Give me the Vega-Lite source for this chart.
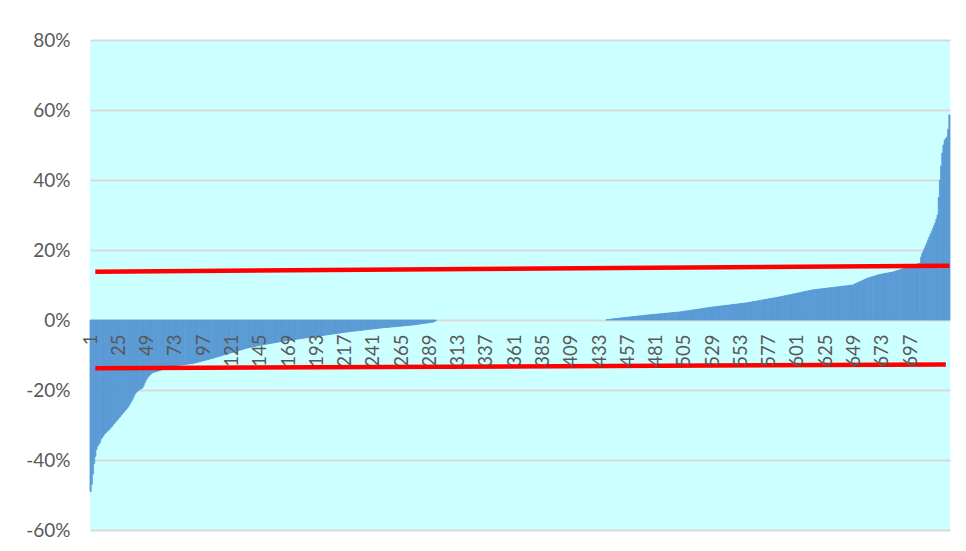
{
"$schema":"https://vega.github.io/schema/vega-lite/v6.json",
"width":860,"height":490,
"autosize":"none",
"padding":{"left":90,"top":40,"right":16,"bottom":21},
"background":"white",
"config":{"view":{"fill":"#ccffff","stroke":null},"font":"Lato"},
"datasets":{
"bars":[
{"i":1,"v":-0.49},{"i":2,"v":-0.47},{"i":3,"v":-0.44},{"i":4,"v":-0.41},{"i":5,"v":-0.39},{"i":6,"v":-0.37},{"i":7,"v":-0.36},{"i":8,"v":-0.355},{"i":9,"v":-0.35},{"i":10,"v":-0.34},
{"i":11,"v":-0.335},{"i":12,"v":-0.33},{"i":13,"v":-0.325},{"i":14,"v":-0.322},{"i":15,"v":-0.318},{"i":16,"v":-0.315},{"i":17,"v":-0.312},{"i":18,"v":-0.308},{"i":19,"v":-0.305},{"i":20,"v":-0.3},
{"i":21,"v":-0.296},{"i":22,"v":-0.292},{"i":23,"v":-0.288},{"i":24,"v":-0.284},{"i":25,"v":-0.28},{"i":26,"v":-0.277},{"i":27,"v":-0.272},{"i":28,"v":-0.268},{"i":29,"v":-0.264},{"i":30,"v":-0.26},
{"i":31,"v":-0.256},{"i":32,"v":-0.252},{"i":33,"v":-0.248},{"i":34,"v":-0.242},{"i":35,"v":-0.236},{"i":36,"v":-0.23},{"i":37,"v":-0.224},{"i":38,"v":-0.217},{"i":39,"v":-0.21},{"i":40,"v":-0.206},
{"i":41,"v":-0.203},{"i":42,"v":-0.2},{"i":43,"v":-0.198},{"i":44,"v":-0.196},{"i":45,"v":-0.194},{"i":46,"v":-0.188},{"i":47,"v":-0.18},{"i":48,"v":-0.172},{"i":49,"v":-0.167},{"i":50,"v":-0.162},
{"i":51,"v":-0.158},{"i":52,"v":-0.155},{"i":53,"v":-0.152},{"i":54,"v":-0.15},{"i":55,"v":-0.149},{"i":56,"v":-0.148},{"i":57,"v":-0.147},{"i":58,"v":-0.146},{"i":59,"v":-0.145},{"i":60,"v":-0.144},
{"i":61,"v":-0.142},{"i":62,"v":-0.14},{"i":63,"v":-0.138},{"i":64,"v":-0.137},{"i":65,"v":-0.135},{"i":66,"v":-0.133},{"i":67,"v":-0.133},{"i":68,"v":-0.132},{"i":69,"v":-0.132},{"i":70,"v":-0.131},
{"i":71,"v":-0.131},{"i":72,"v":-0.131},{"i":73,"v":-0.13},{"i":74,"v":-0.13},{"i":75,"v":-0.129},{"i":76,"v":-0.129},{"i":77,"v":-0.129},{"i":78,"v":-0.1285},{"i":79,"v":-0.128},{"i":80,"v":-0.1276},
{"i":81,"v":-0.1271},{"i":82,"v":-0.1267},{"i":83,"v":-0.1262},{"i":84,"v":-0.1258},{"i":85,"v":-0.1253},{"i":86,"v":-0.1249},{"i":87,"v":-0.1244},{"i":88,"v":-0.124},{"i":89,"v":-0.1231},{"i":90,"v":-0.1222},
{"i":91,"v":-0.1213},{"i":92,"v":-0.1205},{"i":93,"v":-0.1196},{"i":94,"v":-0.1187},{"i":95,"v":-0.1178},{"i":96,"v":-0.1169},{"i":97,"v":-0.1161},{"i":98,"v":-0.1152},{"i":99,"v":-0.1143},{"i":100,"v":-0.1134},
{"i":101,"v":-0.1125},{"i":102,"v":-0.1116},{"i":103,"v":-0.1108},{"i":104,"v":-0.1099},{"i":105,"v":-0.109},{"i":106,"v":-0.108},{"i":107,"v":-0.107},{"i":108,"v":-0.106},{"i":109,"v":-0.105},{"i":110,"v":-0.104},
{"i":111,"v":-0.103},{"i":112,"v":-0.102},{"i":113,"v":-0.101},{"i":114,"v":-0.1},{"i":115,"v":-0.099},{"i":116,"v":-0.098},{"i":117,"v":-0.097},{"i":118,"v":-0.096},{"i":119,"v":-0.095},{"i":120,"v":-0.094},
{"i":121,"v":-0.093},{"i":122,"v":-0.092},{"i":123,"v":-0.091},{"i":124,"v":-0.09},{"i":125,"v":-0.089},{"i":126,"v":-0.088},{"i":127,"v":-0.087},{"i":128,"v":-0.086},{"i":129,"v":-0.085},{"i":130,"v":-0.084},
{"i":131,"v":-0.083},{"i":132,"v":-0.082},{"i":133,"v":-0.081},{"i":134,"v":-0.08},{"i":135,"v":-0.0793},{"i":136,"v":-0.0786},{"i":137,"v":-0.0779},{"i":138,"v":-0.0772},{"i":139,"v":-0.0765},{"i":140,"v":-0.0758},
{"i":141,"v":-0.0752},{"i":142,"v":-0.0745},{"i":143,"v":-0.0738},{"i":144,"v":-0.0731},{"i":145,"v":-0.0724},{"i":146,"v":-0.0717},{"i":147,"v":-0.071},{"i":148,"v":-0.0704},{"i":149,"v":-0.0698},{"i":150,"v":-0.0692},
{"i":151,"v":-0.0686},{"i":152,"v":-0.068},{"i":153,"v":-0.0674},{"i":154,"v":-0.0668},{"i":155,"v":-0.0662},{"i":156,"v":-0.0656},{"i":157,"v":-0.065},{"i":158,"v":-0.0644},{"i":159,"v":-0.0638},{"i":160,"v":-0.0632},
{"i":161,"v":-0.0626},{"i":162,"v":-0.062},{"i":163,"v":-0.0615},{"i":164,"v":-0.061},{"i":165,"v":-0.0605},{"i":166,"v":-0.06},{"i":167,"v":-0.0595},{"i":168,"v":-0.059},{"i":169,"v":-0.0585},{"i":170,"v":-0.058},
{"i":171,"v":-0.0575},{"i":172,"v":-0.057},{"i":173,"v":-0.0565},{"i":174,"v":-0.056},{"i":175,"v":-0.0555},{"i":176,"v":-0.055},{"i":177,"v":-0.0545},{"i":178,"v":-0.054},{"i":179,"v":-0.0535},{"i":180,"v":-0.053},
{"i":181,"v":-0.0525},{"i":182,"v":-0.052},{"i":183,"v":-0.0515},{"i":184,"v":-0.051},{"i":185,"v":-0.0505},{"i":186,"v":-0.05},{"i":187,"v":-0.0495},{"i":188,"v":-0.049},{"i":189,"v":-0.0485},{"i":190,"v":-0.048},
{"i":191,"v":-0.0475},{"i":192,"v":-0.047},{"i":193,"v":-0.0466},{"i":194,"v":-0.0461},{"i":195,"v":-0.0456},{"i":196,"v":-0.0451},{"i":197,"v":-0.0446},{"i":198,"v":-0.0442},{"i":199,"v":-0.0437},{"i":200,"v":-0.0432},
{"i":201,"v":-0.0427},{"i":202,"v":-0.0422},{"i":203,"v":-0.0418},{"i":204,"v":-0.0413},{"i":205,"v":-0.0408},{"i":206,"v":-0.0403},{"i":207,"v":-0.0398},{"i":208,"v":-0.0394},{"i":209,"v":-0.0389},{"i":210,"v":-0.0384},
{"i":211,"v":-0.0379},{"i":212,"v":-0.0374},{"i":213,"v":-0.037},{"i":214,"v":-0.0365},{"i":215,"v":-0.036},{"i":216,"v":-0.0355},{"i":217,"v":-0.035},{"i":218,"v":-0.0345},{"i":219,"v":-0.034},{"i":220,"v":-0.0336},
{"i":221,"v":-0.0332},{"i":222,"v":-0.0328},{"i":223,"v":-0.0324},{"i":224,"v":-0.032},{"i":225,"v":-0.0316},{"i":226,"v":-0.0312},{"i":227,"v":-0.0309},{"i":228,"v":-0.0305},{"i":229,"v":-0.0301},{"i":230,"v":-0.0297},
{"i":231,"v":-0.0293},{"i":232,"v":-0.0289},{"i":233,"v":-0.0285},{"i":234,"v":-0.0281},{"i":235,"v":-0.0277},{"i":236,"v":-0.0273},{"i":237,"v":-0.0269},{"i":238,"v":-0.0265},{"i":239,"v":-0.0261},{"i":240,"v":-0.0257},
{"i":241,"v":-0.0254},{"i":242,"v":-0.025},{"i":243,"v":-0.0246},{"i":244,"v":-0.0242},{"i":245,"v":-0.0238},{"i":246,"v":-0.0234},{"i":247,"v":-0.023},{"i":248,"v":-0.0227},{"i":249,"v":-0.0224},{"i":250,"v":-0.022},
{"i":251,"v":-0.0217},{"i":252,"v":-0.0214},{"i":253,"v":-0.0211},{"i":254,"v":-0.0208},{"i":255,"v":-0.0204},{"i":256,"v":-0.0201},{"i":257,"v":-0.0198},{"i":258,"v":-0.0195},{"i":259,"v":-0.0192},{"i":260,"v":-0.0189},
{"i":261,"v":-0.0185},{"i":262,"v":-0.0182},{"i":263,"v":-0.0179},{"i":264,"v":-0.0176},{"i":265,"v":-0.0173},{"i":266,"v":-0.0169},{"i":267,"v":-0.0166},{"i":268,"v":-0.0163},{"i":269,"v":-0.016},{"i":270,"v":-0.0157},
{"i":271,"v":-0.0154},{"i":272,"v":-0.015},{"i":273,"v":-0.0147},{"i":274,"v":-0.0144},{"i":275,"v":-0.014},{"i":276,"v":-0.0135},{"i":277,"v":-0.0131},{"i":278,"v":-0.0126},{"i":279,"v":-0.0121},{"i":280,"v":-0.0116},
{"i":281,"v":-0.0112},{"i":282,"v":-0.0107},{"i":283,"v":-0.0102},{"i":284,"v":-0.0098},{"i":285,"v":-0.0093},{"i":286,"v":-0.0088},{"i":287,"v":-0.0084},{"i":288,"v":-0.0079},{"i":289,"v":-0.0074},{"i":290,"v":-0.0069},
{"i":291,"v":-0.0065},{"i":292,"v":-0.006},{"i":293,"v":-0.004},{"i":294,"v":-0.002},{"i":295,"v":0},{"i":296,"v":0},{"i":297,"v":0},{"i":298,"v":0},{"i":299,"v":0},{"i":300,"v":0},
{"i":301,"v":0},{"i":302,"v":0},{"i":303,"v":0},{"i":304,"v":0},{"i":305,"v":0},{"i":306,"v":0},{"i":307,"v":0},{"i":308,"v":0},{"i":309,"v":0},{"i":310,"v":0},
{"i":311,"v":0},{"i":312,"v":0},{"i":313,"v":0},{"i":314,"v":0},{"i":315,"v":0},{"i":316,"v":0},{"i":317,"v":0},{"i":318,"v":0},{"i":319,"v":0},{"i":320,"v":0},
{"i":321,"v":0},{"i":322,"v":0},{"i":323,"v":0},{"i":324,"v":0},{"i":325,"v":0},{"i":326,"v":0},{"i":327,"v":0},{"i":328,"v":0},{"i":329,"v":0},{"i":330,"v":0},
{"i":331,"v":0},{"i":332,"v":0},{"i":333,"v":0},{"i":334,"v":0},{"i":335,"v":0},{"i":336,"v":0},{"i":337,"v":0},{"i":338,"v":0},{"i":339,"v":0},{"i":340,"v":0},
{"i":341,"v":0},{"i":342,"v":0},{"i":343,"v":0},{"i":344,"v":0},{"i":345,"v":0},{"i":346,"v":0},{"i":347,"v":0},{"i":348,"v":0},{"i":349,"v":0},{"i":350,"v":0},
{"i":351,"v":0},{"i":352,"v":0},{"i":353,"v":0},{"i":354,"v":0},{"i":355,"v":0},{"i":356,"v":0},{"i":357,"v":0},{"i":358,"v":0},{"i":359,"v":0},{"i":360,"v":0},
{"i":361,"v":0},{"i":362,"v":0},{"i":363,"v":0},{"i":364,"v":0},{"i":365,"v":0},{"i":366,"v":0},{"i":367,"v":0},{"i":368,"v":0},{"i":369,"v":0},{"i":370,"v":0},
{"i":371,"v":0},{"i":372,"v":0},{"i":373,"v":0},{"i":374,"v":0},{"i":375,"v":0},{"i":376,"v":0},{"i":377,"v":0},{"i":378,"v":0},{"i":379,"v":0},{"i":380,"v":0},
{"i":381,"v":0},{"i":382,"v":0},{"i":383,"v":0},{"i":384,"v":0},{"i":385,"v":0},{"i":386,"v":0},{"i":387,"v":0},{"i":388,"v":0},{"i":389,"v":0},{"i":390,"v":0},
{"i":391,"v":0},{"i":392,"v":0},{"i":393,"v":0},{"i":394,"v":0},{"i":395,"v":0},{"i":396,"v":0},{"i":397,"v":0},{"i":398,"v":0},{"i":399,"v":0},{"i":400,"v":0},
{"i":401,"v":0},{"i":402,"v":0},{"i":403,"v":0},{"i":404,"v":0},{"i":405,"v":0},{"i":406,"v":0},{"i":407,"v":0},{"i":408,"v":0},{"i":409,"v":0},{"i":410,"v":0},
{"i":411,"v":0},{"i":412,"v":0},{"i":413,"v":0},{"i":414,"v":0},{"i":415,"v":0},{"i":416,"v":0},{"i":417,"v":0},{"i":418,"v":0},{"i":419,"v":0},{"i":420,"v":0},
{"i":421,"v":0},{"i":422,"v":0},{"i":423,"v":0},{"i":424,"v":0},{"i":425,"v":0},{"i":426,"v":0},{"i":427,"v":0},{"i":428,"v":0},{"i":429,"v":0},{"i":430,"v":0},
{"i":431,"v":0},{"i":432,"v":0},{"i":433,"v":0},{"i":434,"v":0},{"i":435,"v":0},{"i":436,"v":0},{"i":437,"v":0},{"i":438,"v":0},{"i":439,"v":0.0005},{"i":440,"v":0.001},
{"i":441,"v":0.0015},{"i":442,"v":0.002},{"i":443,"v":0.0025},{"i":444,"v":0.003},{"i":445,"v":0.0034},{"i":446,"v":0.0038},{"i":447,"v":0.0042},{"i":448,"v":0.0045},{"i":449,"v":0.0049},{"i":450,"v":0.0053},
{"i":451,"v":0.0057},{"i":452,"v":0.0061},{"i":453,"v":0.0064},{"i":454,"v":0.0068},{"i":455,"v":0.0072},{"i":456,"v":0.0076},{"i":457,"v":0.008},{"i":458,"v":0.0083},{"i":459,"v":0.0087},{"i":460,"v":0.0091},
{"i":461,"v":0.0095},{"i":462,"v":0.0099},{"i":463,"v":0.0102},{"i":464,"v":0.0106},{"i":465,"v":0.011},{"i":466,"v":0.0114},{"i":467,"v":0.0118},{"i":468,"v":0.0121},{"i":469,"v":0.0125},{"i":470,"v":0.0129},
{"i":471,"v":0.0133},{"i":472,"v":0.0137},{"i":473,"v":0.014},{"i":474,"v":0.0143},{"i":475,"v":0.0146},{"i":476,"v":0.015},{"i":477,"v":0.0153},{"i":478,"v":0.0156},{"i":479,"v":0.0159},{"i":480,"v":0.0162},
{"i":481,"v":0.0165},{"i":482,"v":0.0169},{"i":483,"v":0.0172},{"i":484,"v":0.0175},{"i":485,"v":0.0178},{"i":486,"v":0.0181},{"i":487,"v":0.0185},{"i":488,"v":0.0188},{"i":489,"v":0.0191},{"i":490,"v":0.0194},
{"i":491,"v":0.0197},{"i":492,"v":0.02},{"i":493,"v":0.0204},{"i":494,"v":0.0207},{"i":495,"v":0.021},{"i":496,"v":0.0213},{"i":497,"v":0.0216},{"i":498,"v":0.022},{"i":499,"v":0.0223},{"i":500,"v":0.0226},
{"i":501,"v":0.023},{"i":502,"v":0.0235},{"i":503,"v":0.024},{"i":504,"v":0.0245},{"i":505,"v":0.025},{"i":506,"v":0.0255},{"i":507,"v":0.026},{"i":508,"v":0.0265},{"i":509,"v":0.027},{"i":510,"v":0.0275},
{"i":511,"v":0.028},{"i":512,"v":0.0285},{"i":513,"v":0.029},{"i":514,"v":0.0295},{"i":515,"v":0.03},{"i":516,"v":0.0305},{"i":517,"v":0.031},{"i":518,"v":0.0315},{"i":519,"v":0.032},{"i":520,"v":0.0325},
{"i":521,"v":0.033},{"i":522,"v":0.0335},{"i":523,"v":0.034},{"i":524,"v":0.0345},{"i":525,"v":0.035},{"i":526,"v":0.0355},{"i":527,"v":0.036},{"i":528,"v":0.0365},{"i":529,"v":0.037},{"i":530,"v":0.0374},
{"i":531,"v":0.0378},{"i":532,"v":0.0382},{"i":533,"v":0.0387},{"i":534,"v":0.0391},{"i":535,"v":0.0395},{"i":536,"v":0.0399},{"i":537,"v":0.0403},{"i":538,"v":0.0407},{"i":539,"v":0.0411},{"i":540,"v":0.0416},
{"i":541,"v":0.042},{"i":542,"v":0.0424},{"i":543,"v":0.0428},{"i":544,"v":0.0432},{"i":545,"v":0.0436},{"i":546,"v":0.044},{"i":547,"v":0.0445},{"i":548,"v":0.0449},{"i":549,"v":0.0453},{"i":550,"v":0.0457},
{"i":551,"v":0.0461},{"i":552,"v":0.0465},{"i":553,"v":0.0469},{"i":554,"v":0.0474},{"i":555,"v":0.0478},{"i":556,"v":0.0482},{"i":557,"v":0.0486},{"i":558,"v":0.049},{"i":559,"v":0.0496},{"i":560,"v":0.0502},
{"i":561,"v":0.0508},{"i":562,"v":0.0514},{"i":563,"v":0.0521},{"i":564,"v":0.0527},{"i":565,"v":0.0533},{"i":566,"v":0.0539},{"i":567,"v":0.0545},{"i":568,"v":0.0551},{"i":569,"v":0.0557},{"i":570,"v":0.0563},
{"i":571,"v":0.0569},{"i":572,"v":0.0575},{"i":573,"v":0.0581},{"i":574,"v":0.0587},{"i":575,"v":0.0594},{"i":576,"v":0.06},{"i":577,"v":0.0606},{"i":578,"v":0.0612},{"i":579,"v":0.0618},{"i":580,"v":0.0624},
{"i":581,"v":0.063},{"i":582,"v":0.0636},{"i":583,"v":0.0642},{"i":584,"v":0.0648},{"i":585,"v":0.0654},{"i":586,"v":0.066},{"i":587,"v":0.0667},{"i":588,"v":0.0674},{"i":589,"v":0.0681},{"i":590,"v":0.0689},
{"i":591,"v":0.0696},{"i":592,"v":0.0703},{"i":593,"v":0.071},{"i":594,"v":0.0717},{"i":595,"v":0.0724},{"i":596,"v":0.0731},{"i":597,"v":0.0739},{"i":598,"v":0.0746},{"i":599,"v":0.0753},{"i":600,"v":0.076},
{"i":601,"v":0.0767},{"i":602,"v":0.0774},{"i":603,"v":0.0781},{"i":604,"v":0.0789},{"i":605,"v":0.0796},{"i":606,"v":0.0803},{"i":607,"v":0.081},{"i":608,"v":0.0817},{"i":609,"v":0.0824},{"i":610,"v":0.0831},
{"i":611,"v":0.0839},{"i":612,"v":0.0846},{"i":613,"v":0.0853},{"i":614,"v":0.086},{"i":615,"v":0.0864},{"i":616,"v":0.0868},{"i":617,"v":0.0872},{"i":618,"v":0.0876},{"i":619,"v":0.0881},{"i":620,"v":0.0885},
{"i":621,"v":0.0889},{"i":622,"v":0.0893},{"i":623,"v":0.0897},{"i":624,"v":0.0901},{"i":625,"v":0.0905},{"i":626,"v":0.0909},{"i":627,"v":0.0914},{"i":628,"v":0.0918},{"i":629,"v":0.0922},{"i":630,"v":0.0926},
{"i":631,"v":0.093},{"i":632,"v":0.0934},{"i":633,"v":0.0938},{"i":634,"v":0.0942},{"i":635,"v":0.0946},{"i":636,"v":0.0951},{"i":637,"v":0.0955},{"i":638,"v":0.0959},{"i":639,"v":0.0963},{"i":640,"v":0.0967},
{"i":641,"v":0.0971},{"i":642,"v":0.0975},{"i":643,"v":0.0979},{"i":644,"v":0.0984},{"i":645,"v":0.0988},{"i":646,"v":0.0992},{"i":647,"v":0.0996},{"i":648,"v":0.1},{"i":649,"v":0.1016},{"i":650,"v":0.1031},
{"i":651,"v":0.1047},{"i":652,"v":0.1062},{"i":653,"v":0.1078},{"i":654,"v":0.1093},{"i":655,"v":0.1109},{"i":656,"v":0.1124},{"i":657,"v":0.114},{"i":658,"v":0.1157},{"i":659,"v":0.1173},{"i":660,"v":0.119},
{"i":661,"v":0.12},{"i":662,"v":0.121},{"i":663,"v":0.122},{"i":664,"v":0.123},{"i":665,"v":0.124},{"i":666,"v":0.125},{"i":667,"v":0.126},{"i":668,"v":0.127},{"i":669,"v":0.128},{"i":670,"v":0.129},
{"i":671,"v":0.13},{"i":672,"v":0.1306},{"i":673,"v":0.1313},{"i":674,"v":0.1319},{"i":675,"v":0.1325},{"i":676,"v":0.1332},{"i":677,"v":0.1338},{"i":678,"v":0.1345},{"i":679,"v":0.1351},{"i":680,"v":0.1357},
{"i":681,"v":0.1364},{"i":682,"v":0.137},{"i":683,"v":0.1381},{"i":684,"v":0.1392},{"i":685,"v":0.1403},{"i":686,"v":0.1413},{"i":687,"v":0.1424},{"i":688,"v":0.1435},{"i":689,"v":0.1446},{"i":690,"v":0.1457},
{"i":691,"v":0.1468},{"i":692,"v":0.1479},{"i":693,"v":0.149},{"i":694,"v":0.15},{"i":695,"v":0.1511},{"i":696,"v":0.1522},{"i":697,"v":0.1533},{"i":698,"v":0.1544},{"i":699,"v":0.1555},{"i":700,"v":0.1566},
{"i":701,"v":0.1577},{"i":702,"v":0.1587},{"i":703,"v":0.1598},{"i":704,"v":0.1609},{"i":705,"v":0.162},{"i":706,"v":0.18},{"i":707,"v":0.19},{"i":708,"v":0.197},{"i":709,"v":0.205},{"i":710,"v":0.213},
{"i":711,"v":0.221},{"i":712,"v":0.229},{"i":713,"v":0.237},{"i":714,"v":0.245},{"i":715,"v":0.253},{"i":716,"v":0.261},{"i":717,"v":0.269},{"i":718,"v":0.277},{"i":719,"v":0.288},{"i":720,"v":0.3},
{"i":721,"v":0.35},{"i":722,"v":0.4},{"i":723,"v":0.44},{"i":724,"v":0.477},{"i":725,"v":0.5},{"i":726,"v":0.514},{"i":727,"v":0.518},{"i":728,"v":0.523},{"i":729,"v":0.545},{"i":730,"v":0.586}
],
"lines":[
{"i":5,"y":0.138,"s":"top"},{"i":730,"y":0.155,"s":"top"},
{"i":5,"y":-0.138,"s":"bot"},{"i":727,"y":-0.127,"s":"bot"}
]},
"layer":[
{"data":{"name":"bars"},
 "mark":{"type":"bar","color":"#5b9bd5","stroke":"#5b9bd5"},
 "encoding":{
  "x":{"field":"i","type":"ordinal","scale":{"paddingInner":0,"paddingOuter":0},
       "axis":{"title":null,"values":[1,25,49,73,97,121,145,169,193,217,241,265,289,313,337,361,385,409,433,457,481,505,529,553,577,601,625,649,673,697],
               "labelAngle":-90,"labelPadding":14,"labelFontSize":18.5,"labelColor":"#595959","ticks":false,"domain":false,"grid":false,"offset":-210,"zindex":1,"labelOverlap":false}},
  "y":{"field":"v","type":"quantitative","scale":{"domain":[-0.6,0.8],"nice":false,"zero":false},
       "axis":{"title":null,"values":[-0.6,-0.4,-0.2,0,0.2,0.4,0.6,0.8],"labelExpr":"round(datum.value*100)+'%'","labelFontSize":19,"labelColor":"#595959","labelPadding":20,"ticks":false,"domain":false,"grid":true,"gridColor":"#d9d9d9","gridWidth":2}},
  "strokeWidth":{"condition":{"test":"datum.v == 0","value":0},"value":0.8}
 }},
{"data":{"name":"lines"},
 "mark":{"type":"line","color":"#ff0000","strokeWidth":4.5},
 "encoding":{
  "x":{"field":"i","type":"ordinal"},
  "y":{"field":"y","type":"quantitative"},
  "detail":{"field":"s"}
 }}
]
}
